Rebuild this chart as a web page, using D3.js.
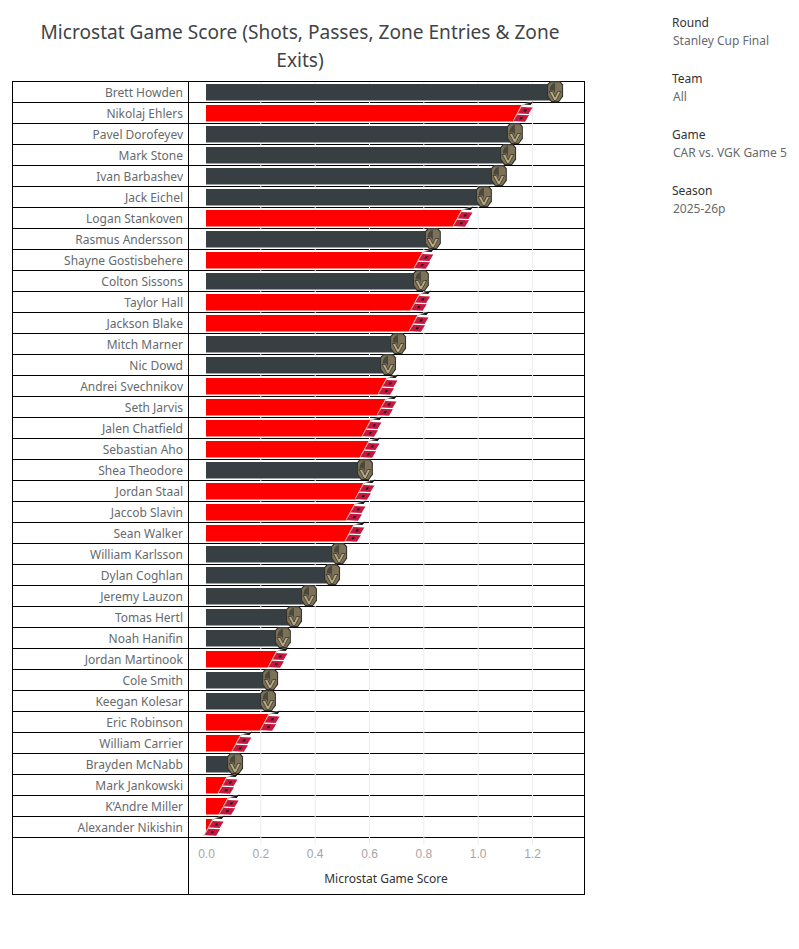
<!DOCTYPE html>
<html>
<head>
<meta charset="utf-8">
<script src="https://cdn.jsdelivr.net/npm/d3@7/dist/d3.min.js"></script>
<style>
  html, body { margin: 0; padding: 0; background: #fff; }
  svg { display: block; font-family: "Noto Sans", sans-serif; }
</style>
</head>
<body>
<div id="chart"></div>
<script>
var players = ["Brett Howden","Nikolaj Ehlers","Pavel Dorofeyev","Mark Stone","Ivan Barbashev","Jack Eichel","Logan Stankoven","Rasmus Andersson","Shayne Gostisbehere","Colton Sissons","Taylor Hall","Jackson Blake","Mitch Marner","Nic Dowd","Andrei Svechnikov","Seth Jarvis","Jalen Chatfield","Sebastian Aho","Shea Theodore","Jordan Staal","Jaccob Slavin","Sean Walker","William Karlsson","Dylan Coghlan","Jeremy Lauzon","Tomas Hertl","Noah Hanifin","Jordan Martinook","Cole Smith","Keegan Kolesar","Eric Robinson","William Carrier","Brayden McNabb","Mark Jankowski","K’Andre Miller","Alexander Nikishin"];
var scores = [1.285,1.167,1.137,1.112,1.078,1.023,0.946,0.835,0.802,0.791,0.79,0.784,0.707,0.67,0.67,0.666,0.611,0.604,0.585,0.585,0.552,0.548,0.49,0.464,0.379,0.324,0.283,0.265,0.236,0.228,0.236,0.132,0.107,0.081,0.085,0.03];
var teams = ["VGK","CAR","VGK","VGK","VGK","VGK","CAR","VGK","CAR","VGK","CAR","CAR","VGK","VGK","CAR","CAR","CAR","CAR","VGK","CAR","CAR","CAR","VGK","VGK","VGK","VGK","VGK","CAR","VGK","VGK","CAR","CAR","VGK","CAR","CAR","CAR"];
var xTicks = [0, 0.2, 0.4, 0.6, 0.8, 1.0, 1.2];
var titleLines = ["Microstat Game Score (Shots, Passes, Zone Entries & Zone", "Exits)"];
var filterNames = ["Round", "Team", "Game", "Season"];
var filterValues = ["Stanley Cup Final", "All", "CAR vs. VGK Game 5", "2025-26p"];

var W = 799, H = 949;
var TEAM_COLORS = { VGK: "#373f43", CAR: "#ff0000" };

var svg = d3.select("#chart").append("svg").attr("width", W).attr("height", H);

var x = d3.scaleLinear().domain([0, 1.2]).range([206, 532]);
var y = d3.scaleBand().domain(players).range([81, 837]);

var rows = players.map(function(p, i) { return { name: p, score: scores[i], team: teams[i] }; });

// title
svg.append("g").selectAll("text").data(titleLines).join("text")
  .attr("x", 300).attr("y", function(d, i) { return 39 + i * 28; })
  .attr("text-anchor", "middle").attr("font-size", 19.1).attr("fill", "#3f4447")
  .text(function(d) { return d; });

// frame + row lines
var frame = svg.append("g").attr("fill", "none").attr("stroke", "#000").attr("stroke-width", 1).attr("shape-rendering", "crispEdges");
frame.append("rect").attr("x", 12.5).attr("y", 81.5).attr("width", 572).attr("height", 813);
frame.append("line").attr("x1", 188.5).attr("x2", 188.5).attr("y1", 81).attr("y2", 894);
frame.selectAll(".row").data(players).join("line").attr("class", "row")
  .attr("x1", 12).attr("x2", 584)
  .attr("y1", function(d) { return y(d) + y.bandwidth() + 0.5; })
  .attr("y2", function(d) { return y(d) + y.bandwidth() + 0.5; });

// grid
svg.append("g").selectAll("line").data(xTicks.slice(1)).join("line")
  .attr("x1", function(d) { return x(d) + 0.5; }).attr("x2", function(d) { return x(d) + 0.5; })
  .attr("y1", 82).attr("y2", 845)
  .attr("stroke", "#ececec").attr("stroke-width", 1);

// player labels
svg.append("g").selectAll("text").data(rows).join("text")
  .attr("x", 183).attr("y", function(d) { return y(d.name) + y.bandwidth() / 2 + 5.5; })
  .attr("text-anchor", "end").attr("font-size", 12).attr("fill", "#666a6d")
  .text(function(d) { return d.name; });

// bars
svg.append("g").selectAll("rect").data(rows).join("rect")
  .attr("x", x(0))
  .attr("y", function(d) { return y(d.name) + 3; })
  .attr("width", function(d) { return x(d.score) - x(0); })
  .attr("height", 16.5)
  .attr("fill", function(d) { return TEAM_COLORS[d.team]; });

// team logos sit at the end of each bar
function drawVGK(g) {
  g.append("path").attr("d", "M-5,-10.5 L5,-10.5 L8,-7 L8,5 L4,10.5 L-4,10.5 L-8,5 L-8,-7 Z").attr("fill", "#33342f");
  g.append("path").attr("d", "M-4.4,-9.3 L4.4,-9.3 L6.9,-6.5 L6.9,4.6 L3.4,9.4 L-3.4,9.4 L-6.9,4.6 L-6.9,-6.5 Z").attr("fill", "#7d7258");
  g.append("path").attr("d", "M0,-8.5 C-4,-8 -5.5,-4 -5.3,-1 L-1.5,-1 L0,2 Z").attr("fill", "#4a473c");
  g.append("path").attr("d", "M-5.8,0 L-2.6,0 L0,5.4 L2.6,0 L5.8,0 L1,9 L-1,9 Z").attr("fill", "#b8a981").attr("stroke", "#2c2c28").attr("stroke-width", 0.7);
}
function drawCAR(g) {
  // white wedge behind the flags trims the bar end on the diagonal
  g.append("path").attr("d", "M-10.5,9.2 L-1.3,-8 L4,-8 L4,9.2 Z").attr("fill", "#fff");
  g.append("path").attr("d", "M-10.3,9.6 L-1.3,-6.8 Q2,-9.5 8.7,-10.2").attr("fill", "none").attr("stroke", "#b3aea4").attr("stroke-width", 0.9);
  g.append("path").attr("d", "M-1.5,-5.5 L9.5,-5 L5.5,1.5 L-5.3,1 Z").attr("fill", "#c8173f");
  g.append("path").attr("d", "M-5.8,2.2 L6,2.8 L2,9.2 L-9.5,8.6 Z").attr("fill", "#c8173f");
  g.append("path").attr("d", "M1.5,-3.2 L4,-3.2 L3,-1 L0.5,-1 Z").attr("fill", "#2a1a1c");
  g.append("path").attr("d", "M-2.5,4.5 L0,4.5 L-1,6.7 L-3.5,6.7 Z").attr("fill", "#2a1a1c");
  g.append("path").attr("d", "M1,-8 L10.5,-11 L7.5,-7.5 Z").attr("fill", "#111");
}
svg.append("g").selectAll("g").data(rows).join("g")
  .attr("transform", function(d) { return "translate(" + x(d.score) + "," + (y(d.name) + y.bandwidth() / 2) + ")"; })
  .each(function(d) { (d.team === "VGK" ? drawVGK : drawCAR)(d3.select(this)); });

// x axis
var axis = svg.append("g").attr("transform", "translate(0,846)")
  .call(d3.axisBottom(x).tickValues(xTicks).tickSize(0).tickPadding(3).tickFormat(d3.format(".1f")));
axis.select(".domain").remove();
axis.selectAll("text").attr("font-family", "inherit").attr("font-size", 12).attr("fill", "#a6a6a6");

svg.append("text").attr("x", 386).attr("y", 883).attr("text-anchor", "middle")
  .attr("font-size", 12).attr("fill", "#333").text("Microstat Game Score");

// filter cards on the right
var cards = svg.append("g").selectAll("g").data(filterNames).join("g")
  .attr("transform", function(d, i) { return "translate(672," + (27 + i * 56) + ")"; });
cards.append("text").attr("font-size", 12).attr("fill", "#333").text(function(d) { return d; });
cards.append("text").attr("x", 1).attr("y", 18).attr("font-size", 12).attr("fill", "#666a6d")
  .text(function(d, i) { return filterValues[i]; });
</script>
</body>
</html>
